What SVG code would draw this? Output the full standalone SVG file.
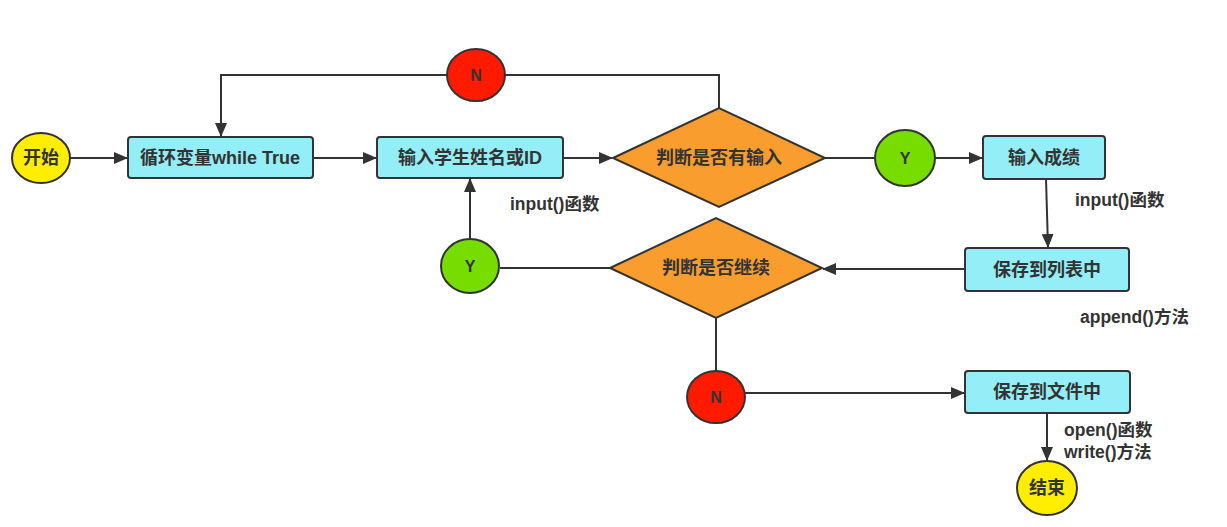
<svg xmlns="http://www.w3.org/2000/svg" width="1227" height="527" viewBox="0 0 1227 527">
<style>
.box{fill:#93EEF7;stroke:#333;stroke-width:2}
.dia{fill:#F99D2E;stroke:#333;stroke-width:2}
.yel{fill:#FFEE00;stroke:#333;stroke-width:2}
.red{fill:#FF1A00;stroke:#333;stroke-width:2}
.grn{fill:#77DD00;stroke:#333;stroke-width:2}
.t{font-family:"Liberation Sans","Noto Sans CJK SC",sans-serif;font-size:18px;font-weight:bold;fill:#333;text-anchor:middle;dominant-baseline:central}
.s{font-size:16px}
.l{font-family:"Liberation Sans","Noto Sans CJK SC",sans-serif;font-size:17.5px;font-weight:bold;fill:#333;dominant-baseline:central}
.c{fill:none;stroke:#333;stroke-width:2}
</style>
<defs>
<marker id="a" markerWidth="14" markerHeight="12" refX="13" refY="6" orient="auto" markerUnits="userSpaceOnUse">
<path d="M0,0 L14,6 L0,12 Z" fill="#333"/>
</marker>
</defs>
<rect width="1227" height="527" fill="#fff"/>
<g id="connectors">
<path class="c" d="M70,158 L127,158" marker-end="url(#a)"/>
<path class="c" d="M313,158 L376,158" marker-end="url(#a)"/>
<path class="c" d="M563,158 L612,158" marker-end="url(#a)"/>
<path class="c" d="M719,108 L719,75 L505,75"/>
<path class="c" d="M447,75 L221,75 L221,136" marker-end="url(#a)"/>
<path class="c" d="M825,158 L875,158"/>
<path class="c" d="M935,158 L982,158" marker-end="url(#a)"/>
<path class="c" d="M1046,179 L1048,247" marker-end="url(#a)"/>
<path class="c" d="M965,269 L823,269" marker-end="url(#a)"/>
<path class="c" d="M610,268 L500,268"/>
<path class="c" d="M470,239 L470,179" marker-end="url(#a)"/>
<path class="c" d="M716,318 L716,371"/>
<path class="c" d="M745,393 L964,393" marker-end="url(#a)"/>
<path class="c" d="M1047,413 L1047,460" marker-end="url(#a)"/>
</g>
<g id="start"><ellipse class="yel" cx="41" cy="158" rx="29" ry="25"/><text class="t" x="41" y="158">开始</text></g>
<g id="loop"><rect class="box" x="128" y="137" width="185" height="41" rx="3"/><text class="t" x="220" y="158">循环变量while True</text></g>
<g id="inputName"><rect class="box" x="377" y="137" width="186" height="41" rx="3"/><text class="t" x="470" y="158">输入学生姓名或ID</text></g>
<g id="decide1"><polygon class="dia" points="613,158 719,108 825,158 719,207"/><text class="t" x="719" y="158">判断是否有输入</text></g>
<g id="n1"><ellipse class="red" cx="476" cy="75" rx="29" ry="26"/><text class="t s" x="476" y="75">N</text></g>
<g id="y1"><ellipse class="grn" cx="905" cy="158" rx="30" ry="28"/><text class="t s" x="905" y="158">Y</text></g>
<g id="inputScore"><rect class="box" x="983" y="136" width="122" height="43" rx="3"/><text class="t" x="1044" y="158">输入成绩</text></g>
<g id="saveList"><rect class="box" x="965" y="248" width="164" height="43" rx="3"/><text class="t" x="1047" y="270">保存到列表中</text></g>
<g id="decide2"><polygon class="dia" points="610,268 716,218 822,268 716,318"/><text class="t" x="716" y="268">判断是否继续</text></g>
<g id="y2"><ellipse class="grn" cx="470" cy="266" rx="29" ry="27"/><text class="t s" x="470" y="266">Y</text></g>
<g id="n2"><ellipse class="red" cx="716" cy="397" rx="29" ry="26"/><text class="t s" x="716" y="397">N</text></g>
<g id="saveFile"><rect class="box" x="965" y="371" width="165" height="42" rx="3"/><text class="t" x="1047" y="392">保存到文件中</text></g>
<g id="end"><ellipse class="yel" cx="1047" cy="488" rx="30" ry="27"/><text class="t" x="1047" y="488">结束</text></g>
<g id="labels">
<text class="l" x="510" y="204">input()函数</text>
<text class="l" x="1075" y="200">input()函数</text>
<text class="l" x="1080" y="317">append()方法</text>
<text class="l" x="1064" y="430">open()函数</text>
<text class="l" x="1064" y="452">write()方法</text>
</g>
</svg>
